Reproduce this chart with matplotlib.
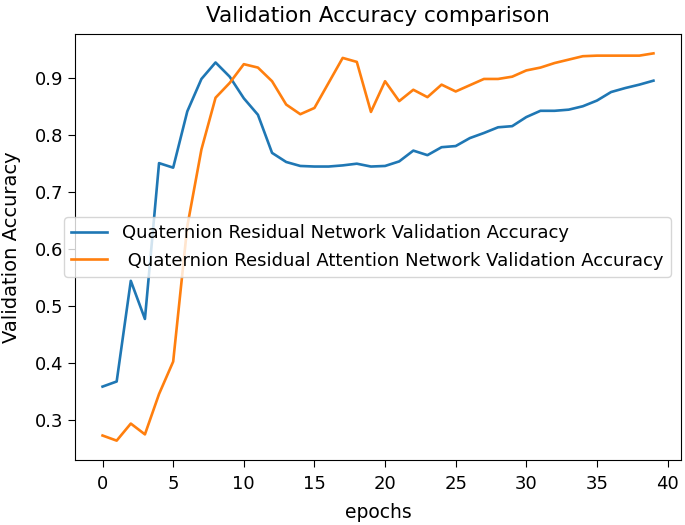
import matplotlib
matplotlib.use("Agg")
import matplotlib.pyplot as plt
import numpy as np

epochs = list(range(40))
resnet_acc = [0.358, 0.367, 0.544, 0.477, 0.751, 0.743, 0.842, 0.899, 0.928, 0.903,
              0.865, 0.836, 0.769, 0.753, 0.746, 0.745, 0.745, 0.747, 0.750, 0.745,
              0.746, 0.754, 0.773, 0.765, 0.779, 0.781, 0.795, 0.804, 0.814, 0.816,
              0.832, 0.843, 0.843, 0.845, 0.851, 0.861, 0.876, 0.883, 0.889, 0.896]
attn_acc = [0.272, 0.263, 0.293, 0.274, 0.345, 0.402, 0.640, 0.775, 0.866, 0.892,
            0.925, 0.919, 0.895, 0.854, 0.837, 0.848, 0.892, 0.936, 0.929, 0.841,
            0.895, 0.860, 0.880, 0.867, 0.889, 0.877, 0.888, 0.899, 0.899, 0.903,
            0.914, 0.919, 0.927, 0.933, 0.939, 0.940, 0.940, 0.940, 0.940, 0.944]
labels = ["Quaternion Residual Network Validation Accuracy",
          " Quaternion Residual Attention Network Validation Accuracy"]

fig = plt.figure(figsize=(6.85, 5.25), dpi=100)
ax = fig.add_axes([75/685, 65/525, 606/685, 426/525])
ax.plot(epochs, resnet_acc, color="#1f77b4", lw=1.9, label=labels[0])
ax.plot(epochs, attn_acc, color="#ff7f0e", lw=1.9, label=labels[1])
ax.set_title("Validation Accuracy comparison", fontsize=15.5, pad=9)
ax.set_xlabel("epochs", fontsize=13.5, labelpad=7)
ax.set_ylabel("Validation Accuracy", fontsize=14, labelpad=10)
ax.tick_params(labelsize=13, length=5)
ax.tick_params(axis="x", pad=6)
ax.set_xticks([0, 5, 10, 15, 20, 25, 30, 35, 40])
ax.legend(loc="center left", bbox_to_anchor=(-0.018, 0.5), borderaxespad=0,
          fontsize=13, handlelength=2.0)
fig.savefig("out.png", dpi=100)
